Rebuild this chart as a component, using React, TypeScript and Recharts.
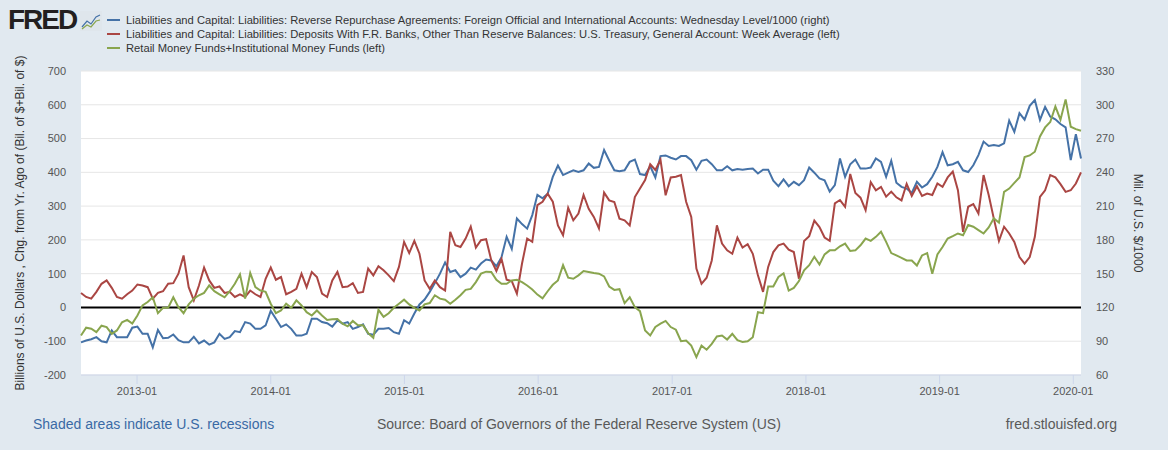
import { LineChart, Line, XAxis, YAxis, CartesianGrid, ReferenceLine } from "recharts";

const FONT = "'Liberation Sans', Arial, Helvetica, sans-serif";

// weekly series sampled every two weeks, starting 2012-08-01
const START = Date.UTC(2012, 7, 1);
const DAY = 86400000;
const STEP_DAYS = 14;

// Reverse repos, foreign official accounts, Wednesday level / 1000 (right axis)
const rrpForeign = [
  89, 90.6, 91.8, 93.6, 90, 89, 99.6, 93.6, 93.6, 93.6,
  102, 103, 96.6, 96.6, 84.6, 100, 92.7, 93, 96, 91,
  89, 89, 94, 88, 90.6, 87, 89, 96.6, 92, 93.6,
  99, 98, 107, 105.6, 101, 101, 104, 117, 110, 102.6,
  105, 101, 95, 95, 96.6, 110, 110, 107, 106, 103,
  108.6, 105.6, 107, 101, 102.6, 105, 96.6, 95.7, 101, 101,
  101.7, 98, 96.6, 108.6, 105.6, 114.6, 122.7, 127, 133.8, 141.6,
  150, 160, 151.5, 153, 147, 150, 155.4, 153.6, 159,
  162.6, 161.7, 156.6, 164.7, 182.7, 172, 199, 194, 190, 202,
  220, 217, 221, 236, 246, 237.6, 239.7, 241.8, 240.3, 241.8,
  247.8, 244, 244.8, 259.8, 250.5, 241.8, 241, 241.8, 249.3, 251.4,
  238.5, 237.6, 245.4, 235.5, 254.4, 255, 253, 251.4, 254.4,
  254.4, 250.8, 242.4, 250.2, 251.4, 247.2, 241.8, 241.8, 245.4, 241.8,
  243, 242.4, 243, 243.3, 239, 242.4, 242.4, 232.5, 227.7, 233.7,
  227.7, 231.6, 228.6, 233, 244.2, 239.7, 234.6, 233, 222.9, 228.6,
  252.3, 236, 247.2, 251.4, 243.3, 243.3, 244.2, 252.3, 249.3,
  236.1, 250.2, 230.7, 227.1, 225.6, 221.7, 231.6, 226.5, 229.5, 236.1,
  244.8, 258, 246.3, 247.2, 249.3, 241.8, 240.3, 246.3, 255.3, 267.3,
  263.4, 264.3, 263.4, 265.8, 285.9, 276, 292.5, 286.8, 299.1, 304.2,
  286.5, 298.2, 289.5, 287.1, 282.9, 279.9, 250.8, 273.9, 252.3,
];

// Treasury general account, week average (left axis)
const tgaDeposits = [
  43, 31, 26, 46, 70, 80, 58, 31, 26, 39,
  50, 68, 65, 60, 26, 43, 48, 70, 72, 100,
  154, 60, 21, 65, 118, 80, 58, 62, 43, 46,
  31, 39, 31, 50, 39, 31, 85, 118, 82, 90,
  39, 46, 55, 100, 60, 105, 90, 41, 31, 80,
  105, 60, 62, 72, 43, 46, 115, 95, 122, 110,
  95, 78, 120, 194, 161, 197, 159, 80, 55, 80,
  60, 50, 224, 184, 179, 204, 239, 177, 199,
  202, 140, 108, 144, 82, 78, 41, 130, 204, 194,
  303, 313, 337, 313, 243, 214, 295, 258, 278, 333,
  292, 268, 234, 340, 317, 312, 263, 258, 243, 327,
  352, 377, 424, 407, 437, 332, 385, 387, 392,
  313, 268, 115, 70, 88, 139, 243, 189, 169, 159,
  207, 177, 187, 159, 95, 46, 120, 164, 184, 189,
  171, 164, 85, 197, 211, 257, 238, 207, 197, 308,
  318, 298, 395, 339, 325, 288, 371, 347, 357,
  328, 343, 326, 317, 366, 330, 359, 330, 337, 333,
  367, 357, 385, 402, 347, 224, 298, 306, 278, 392,
  333, 263, 197, 239, 219, 194, 149, 130, 149, 209,
  327, 347, 392, 385, 365, 342, 347, 367, 400,
];

// Retail + institutional money funds, change from year ago (left axis)
const moneyFundsChg = [
  -83, -60, -63, -73, -54, -58, -78, -68, -44, -37,
  -48, -24, 6, 16, 30, -17, -1, -1, 30, 1,
  -17, 9, 26, 36, 43, 65, 48, 39, 30, 48,
  70, 98, 26, 102, 60, 50, 46, 11, -17, -9,
  11, -1, 21, 6, -14, -24, -9, -24, -37, -35,
  -34, -48, -56, -40, -53, -53, -76, -90, -7, -28,
  -17, -1, 11, 23, 9, -1, -9, 9, 13, 36,
  26, 23, 11, 23, 36, 52, 55, 75, 100,
  106, 105, 82, 70, 70, 80, 82, 75, 65, 53,
  38, 27, 48, 67, 80, 125, 88, 85, 95, 108,
  105, 102, 100, 92, 62, 52, 54, 13, 30, 1,
  -11, -68, -83, -58, -48, -40, -58, -66, -100,
  -98, -113, -147, -113, -125, -108, -86, -83, -95, -78,
  -97, -102, -100, -88, -14, -17, 62, 62, 90, 101,
  50, 58, 78, 110, 125, 150, 127, 157, 169, 169,
  181, 189, 167, 169, 184, 204, 197, 209, 224,
  194, 161, 154, 147, 139, 139, 124, 154, 161, 100,
  157, 179, 204, 211, 219, 214, 244, 239, 229, 219,
  237, 264, 251, 342, 352, 369, 385, 445, 450, 461,
  506, 533, 549, 595, 556, 616, 535, 528, 523,
];

const years = [2013, 2014, 2015, 2016, 2017, 2018, 2019, 2020];
const leftTicks = [-200, -100, 0, 100, 200, 300, 400, 500, 600, 700];
const rightTicks = [60, 90, 120, 150, 180, 210, 240, 270, 300, 330];

const legendItems = [
  { color: "#4572a7", text: "Liabilities and Capital: Liabilities: Reverse Repurchase Agreements: Foreign Official and International Accounts: Wednesday Level/1000 (right)" },
  { color: "#aa4643", text: "Liabilities and Capital: Liabilities: Deposits With F.R. Banks, Other Than Reserve Balances: U.S. Treasury, General Account: Week Average (left)" },
  { color: "#89a54e", text: "Retail Money Funds+Institutional Money Funds (left)" },
];

const data = rrpForeign.map((v, i) => ({
  date: START + i * STEP_DAYS * DAY,
  rrp: v,
  tga: tgaDeposits[i],
  mmf: moneyFundsChg[i],
}));
const END = data[data.length - 1].date;
const yearTicks = years.map((y) => Date.UTC(y, 0, 1));

const tickStyle = { fill: "#555", fontSize: 11, fontFamily: FONT };

function FredLogo() {
  return (
    <div style={{ position: "absolute", left: 8, top: 4, display: "flex", alignItems: "center" }}>
      <span style={{ fontSize: 28, fontWeight: "bold", letterSpacing: -2, color: "#231f20", lineHeight: "32px" }}>FRED</span>
      <svg width="22" height="20" style={{ marginLeft: 4, marginTop: 2 }}>
        <rect x="0" y="0" width="22" height="20" fill="#dfe6ec" />
        <polyline points="2,16 7,10 11,13 16,6 20,4" fill="none" stroke="#4572a7" strokeWidth="1.2" />
        <polyline points="2,18 7,14 11,16 16,10 20,9" fill="none" stroke="#89a54e" strokeWidth="1.2" />
      </svg>
    </div>
  );
}

export default function App() {
  return (
    <div
      style={{
        position: "fixed",
        left: 0,
        top: 0,
        width: 1168,
        height: 450,
        background: "#e1e9f0",
        fontFamily: FONT,
        overflow: "hidden",
      }}
    >
      <FredLogo />

      {legendItems.map((item, i) => (
        <div
          key={item.text}
          style={{ position: "absolute", left: 107, top: 13 + i * 14, display: "flex", alignItems: "center", whiteSpace: "nowrap" }}
        >
          <span style={{ display: "inline-block", width: 13, height: 2, background: item.color, marginRight: 6 }} />
          <span style={{ fontSize: 11.2, lineHeight: "14px", color: "#333" }}>{item.text}</span>
        </div>
      ))}

      <div style={{ position: "absolute", left: 0, top: 0 }}>
        <LineChart width={1168} height={450} data={data} margin={{ top: 71, right: 0, bottom: 45, left: 21 }}>
          <CartesianGrid yAxisId="left" vertical={false} stroke="#e6e6e6" fill="#ffffff" />
          <XAxis
            dataKey="date"
            type="number"
            domain={[START, END]}
            ticks={yearTicks}
            interval={0}
            tickFormatter={(t) => `${new Date(t).getUTCFullYear()}-01`}
            height={30}
            tickSize={9}
            tickMargin={3}
            stroke="#ccd6eb"
            tick={tickStyle}
          />
          <YAxis
            yAxisId="left"
            domain={[-200, 700]}
            ticks={leftTicks}
            interval={0}
            width={60}
            axisLine={false}
            tickLine={false}
            tickSize={0}
            tickMargin={15}
            tick={tickStyle}
          />
          <YAxis
            yAxisId="right"
            orientation="right"
            domain={[60, 330]}
            ticks={rightTicks}
            interval={0}
            width={87}
            axisLine={false}
            tickLine={false}
            tickSize={0}
            tickMargin={15}
            tick={tickStyle}
          />
          <ReferenceLine yAxisId="left" y={0} stroke="#000" strokeWidth={2} />
          <Line yAxisId="right" type="linear" dataKey="rrp" stroke="#4572a7" strokeWidth={2} dot={false} isAnimationActive={false} />
          <Line yAxisId="left" type="linear" dataKey="tga" stroke="#aa4643" strokeWidth={2} dot={false} isAnimationActive={false} />
          <Line yAxisId="left" type="linear" dataKey="mmf" stroke="#89a54e" strokeWidth={2} dot={false} isAnimationActive={false} />
        </LineChart>
      </div>

      <div
        style={{
          position: "absolute",
          left: 20,
          top: 223,
          transform: "translate(-50%, -50%) rotate(-90deg)",
          whiteSpace: "nowrap",
          fontSize: 12,
          color: "#333",
        }}
      >
        Billions of U.S. Dollars , Chg. from Yr. Ago of (Bil. of $+Bil. of $)
      </div>
      <div
        style={{
          position: "absolute",
          left: 1138,
          top: 223,
          transform: "translate(-50%, -50%) rotate(90deg)",
          whiteSpace: "nowrap",
          fontSize: 12,
          color: "#333",
        }}
      >
        Mil. of U.S. $/1000
      </div>

      <div style={{ position: "absolute", left: 33, top: 416, fontSize: 14, lineHeight: "16px", color: "#3a6aa5" }}>
        Shaded areas indicate U.S. recessions
      </div>
      <div style={{ position: "absolute", left: 377, top: 416, fontSize: 14, lineHeight: "16px", color: "#595959" }}>
        Source: Board of Governors of the Federal Reserve System (US)
      </div>
      <div style={{ position: "absolute", right: 51, top: 416, fontSize: 14, lineHeight: "16px", color: "#595959" }}>
        fred.stlouisfed.org
      </div>
    </div>
  );
}
